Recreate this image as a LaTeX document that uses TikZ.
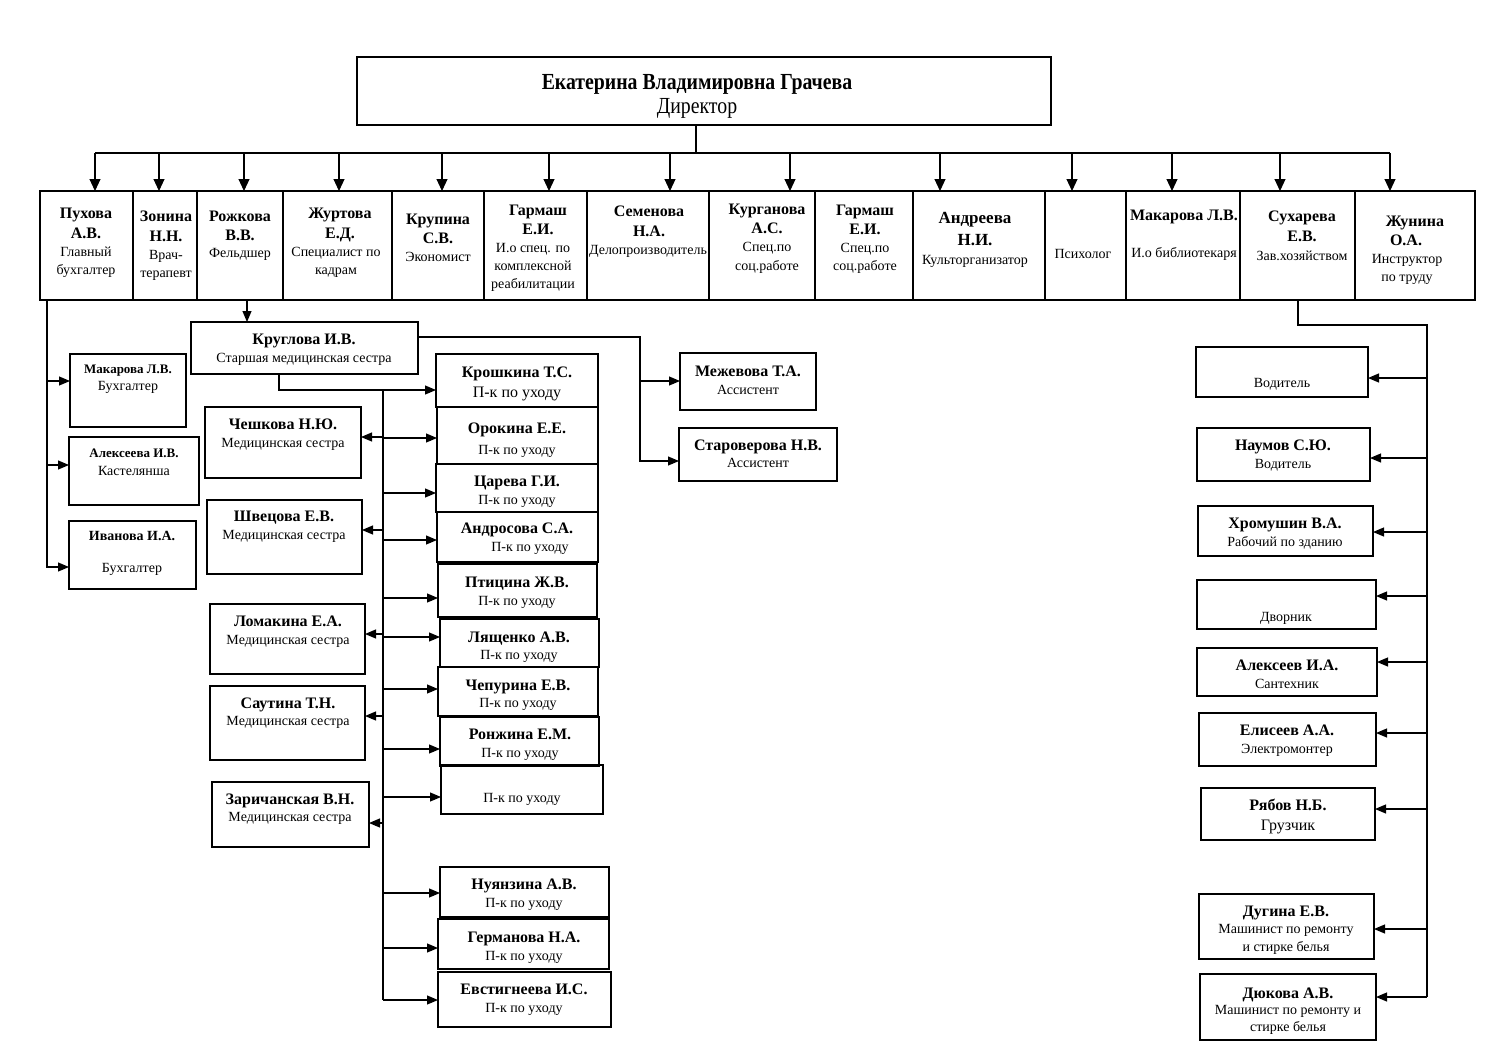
\documentclass[tikz,border=0pt]{standalone}
\usepackage{fontspec}
\setmainfont{Liberation Serif}
\usetikzlibrary{arrows.meta}
\newcount\tcn
\tikzset{
  box/.style={draw=black, line width=1.2pt, inner sep=0pt, outer sep=0pt, anchor=center},
  txt/.style={anchor=base, inner sep=0pt, outer sep=0pt},
  arr/.style={draw=black, line width=1.1pt, -{Triangle[length=11pt,width=9pt]}},
  ln/.style={draw=black, line width=1.1pt},
}
% box: [opts]{name}{x1}{y1}{x2}{y2}
\newcommand\bx[6][]{\node[box,minimum width={#5pt-#3pt},minimum height={#6pt-#4pt},#1] (#2) at ({(#3+#5)/2},{(#4+#6)/2}) {};}
% regular text: {x}{y}{size}{text}
\newcommand\txr[4]{\global\advance\tcn by 1\relax
  \node[txt,font=\fontsize{#3}{#3}\selectfont] (t\the\tcn) at ({#1},{#2+0.32*#3}) {#4};}
\newcommand\txb[4]{\global\advance\tcn by 1\relax
  \node[txt,font=\fontsize{#3}{#3}\selectfont\bfseries] (t\the\tcn) at ({#1},{#2+0.32*#3}) {#4};}
\begin{document}
\begin{tikzpicture}[x=1pt,y=-1pt]
\useasboundingbox[fill=white] (0,0) rectangle (1500,1061);

% ---------- Director ----------
\bx[line width=2.5pt]{dir}{357}{57}{1051}{125}
\node[txt,font=\fontsize{23}{23}\selectfont\bfseries,xscale=0.86] (dirname) at (697,89) {Екатерина Владимировна Грачева};
\node[txt,font=\fontsize{23}{23}\selectfont,xscale=0.86] (dirpost) at (697,113) {Директор};

% ---------- Top row cells ----------
\bx{c1}{40}{191}{133}{300}
\bx{c2}{133}{191}{197}{300}
\bx{c3}{197}{191}{283}{300}
\bx{c4}{283}{191}{392}{300}
\bx{c5}{392}{191}{484}{300}
\bx{c6}{484}{191}{587}{300}
\bx{c7}{587}{191}{709}{300}
\bx{c8}{709}{191}{815}{300}
\bx{c9}{815}{191}{913}{300}
\bx{c10}{913}{191}{1045}{300}
\bx{c11}{1045}{191}{1126}{300}
\bx{c12}{1126}{191}{1240}{300}
\bx{c13}{1240}{191}{1355}{300}
\bx{c14}{1355}{191}{1475}{300}
\bx[line width=2.5pt]{row}{40}{191}{1475}{300}

\txb{86}{213}{16}{Пухова}\txb{86}{233}{16}{А.В.}
\txr{86}{252}{14}{Главный}\txr{86}{270}{14}{бухгалтер}
\txb{166}{216}{16}{Зонина}\txb{166}{236}{16}{Н.Н.}
\txr{166}{255}{14}{Врач-}\txr{166}{273}{14}{терапевт}
\txb{240}{216}{16}{Рожкова}\txb{240}{235}{16}{В.В.}
\txr{240}{253}{14}{Фельдшер}
\txb{340}{213}{16}{Журтова}\txb{340}{233}{16}{Е.Д.}
\txr{336}{252}{14}{Специалист по}\txr{336}{270}{14}{кадрам}
\txb{438}{219}{16}{Крупина}\txb{438}{238}{16}{С.В.}
\txr{438}{257}{14}{Экономист}
\txb{538}{210}{16}{Гармаш}\txb{538}{229}{16}{Е.И.}
\txr{533}{248}{14}{И.о спец. по}\txr{533}{266}{14}{комплексной}\txr{533}{284}{14}{реабилитации}
\txb{649}{211}{16}{Семенова}\txb{649}{231}{16}{Н.А.}
\txr{648}{250}{14}{Делопроизводитель}
\txb{767}{209}{16}{Курганова}\txb{767}{228}{16}{А.С.}
\txr{767}{247}{14}{Спец.по}\txr{767}{266}{14}{соц.работе}
\txb{865}{210}{16}{Гармаш}\txb{865}{229}{16}{Е.И.}
\txr{865}{248}{14}{Спец.по}\txr{865}{266}{14}{соц.работе}
\txb{975}{218}{17}{Андреева}\txb{975}{240}{17}{Н.И.}
\txr{975}{260}{14}{Культорганизатор}
\txr{1083}{254}{14}{Психолог}
\txb{1184}{215}{16}{Макарова Л.В.}
\txr{1184}{253}{14}{И.о библиотекаря}
\txb{1302}{216}{16}{Сухарева}\txb{1302}{236}{16}{Е.В.}
\txr{1302}{256}{14}{Зав.хозяйством}
\txb{1415}{221}{16}{Жунина}\txb{1406}{240}{16}{О.А.}
\txr{1407}{259}{14}{Инструктор}\txr{1407}{277}{14}{по труду}

% ---------- Director bus ----------
\coordinate (bus) at (696,153);
\draw[ln] (dir.south -| bus) -- (bus);
\draw[ln] (95,153) -- (1390,153);
\foreach \xx/\cc in {95/c1,159/c2,244/c3,339/c4,442/c5,549/c6,670/c7,790/c8,940/c10,1072/c11,1172/c12,1280/c13,1390/c14}{
  \draw[arr,-{Triangle[length=12pt,width=11pt]}] (\xx,153) -- (\cc.north -| \xx,0);
}

% ---------- Left column (Pukhova) ----------
\bx{makL}{70}{354}{186}{427}
\bx{alek}{69}{437}{199}{505}
\bx{ivan}{69}{521}{196}{589}
\txb{128}{369}{13}{Макарова Л.В.}\txr{128}{386}{14}{Бухгалтер}
\txb{134}{453}{13}{Алексеева И.В.}\txr{134}{471}{14}{Кастелянша}
\txb{132}{536}{14}{Иванова И.А.}\txr{132}{568}{14}{Бухгалтер}
\coordinate (pk) at (47,300);
\draw[arr] (pk) |- (ivan.west |- 0,567);
\draw[arr] (47,381) -- (makL.west |- 0,381);
\draw[arr] (47,465) -- (alek.west |- 0,465);

% ---------- Kruglova ----------
\bx{krug}{191}{322}{418}{374}
\txb{304}{339}{16}{Круглова И.В.}\txr{304}{358}{14}{Старшая медицинская сестра}
\draw[arr] (c3.south -| 247,0) -- (krug.north -| 247,0);

% assistants
\bx{mezh}{680}{353}{816}{410}
\bx{star}{679}{428}{837}{481}
\txb{748}{371}{16}{Межевова Т.А.}\txr{748}{390}{14}{Ассистент}
\txb{758}{445}{16}{Староверова Н.В.}\txr{758}{463}{14}{Ассистент}
\coordinate (asb) at (640,337);
\draw[arr] (krug.east |- asb) -- (asb) |- (star.west |- 0,461);
\draw[arr] (640,381) -- (mezh.west |- 0,381);

% nurses
\bx{chesh}{205}{407}{361}{478}
\bx{shve}{207}{500}{362}{574}
\bx{loma}{210}{604}{365}{674}
\bx{saut}{210}{686}{365}{760}
\bx{zari}{212}{782}{369}{847}
\txb{283}{424}{16}{Чешкова Н.Ю.}\txr{283}{443}{14}{Медицинская сестра}
\txb{284}{516}{16}{Швецова Е.В.}\txr{284}{535}{14}{Медицинская сестра}
\txb{288}{621}{16}{Ломакина Е.А.}\txr{288}{640}{14}{Медицинская сестра}
\txb{288}{703}{16}{Саутина Т.Н.}\txr{288}{721}{14}{Медицинская сестра}
\txb{290}{799}{16}{Заричанская В.Н.}\txr{290}{817}{14}{Медицинская сестра}

% carers
\bx{kro}{436}{354}{598}{407}
\bx{oro}{437}{407}{598}{464}
\bx{tsa}{436}{464}{598}{512}
\bx{andr}{437}{512}{598}{562}
\bx{pti}{438}{564}{597}{617}
\bx{lya}{440}{619}{599}{667}
\bx{chep}{438}{667}{598}{716}
\bx{ron}{440}{717}{599}{766}
\bx{blank}{441}{765}{603}{814}
\bx{nuy}{440}{867}{609}{917}
\bx{ger}{438}{919}{609}{969}
\bx{evs}{438}{972}{611}{1027}
\txb{517}{372}{16}{Крошкина Т.С.}\txr{517}{392}{16}{П-к по уходу}
\txb{517}{428}{16}{Орокина Е.Е.}\txr{517}{450}{14}{П-к по уходу}
\txb{517}{481}{16}{Царева Г.И.}\txr{517}{500}{14}{П-к по уходу}
\txb{517}{528}{16}{Андросова С.А.}\txr{530}{547}{14}{П-к по уходу}
\txb{517}{582}{16}{Птицина Ж.В.}\txr{517}{601}{14}{П-к по уходу}
\txb{519}{637}{16}{Лященко А.В.}\txr{519}{655}{14}{П-к по уходу}
\txb{518}{685}{16}{Чепурина Е.В.}\txr{518}{703}{14}{П-к по уходу}
\txb{520}{734}{16}{Ронжина Е.М.}\txr{520}{753}{14}{П-к по уходу}
\txr{522}{798}{14}{П-к по уходу}
\txb{524}{884}{16}{Нуянзина А.В.}\txr{524}{903}{14}{П-к по уходу}
\txb{524}{937}{16}{Германова Н.А.}\txr{524}{956}{14}{П-к по уходу}
\txb{524}{989}{16}{Евстигнеева И.С.}\txr{524}{1008}{14}{П-к по уходу}

% Kruglova -> vertical bus
\coordinate (mb) at (383,390);
\draw[ln] (krug.south -| 279,0) |- (mb);
\draw[ln] (mb) -- (383,1000);
\foreach \yy/\bb in {390/kro,438/oro,493/tsa,540/andr,598/pti,637/lya,689/chep,749/ron,797/blank,893/nuy,948/ger,1000/evs}{
  \draw[arr] (383,\yy) -- (\bb.west |- 0,\yy);
}
\foreach \yy/\bb in {437/chesh,530/shve,634/loma,716/saut,823/zari}{
  \draw[arr] (383,\yy) -- (\bb.east |- 0,\yy);
}

% ---------- Right column (Sukhareva) ----------
\bx{vod}{1196}{347}{1368}{397}
\bx{nau}{1197}{428}{1370}{481}
\bx{khr}{1198}{506}{1373}{556}
\bx{dvo}{1197}{580}{1376}{629}
\bx{alx}{1197}{648}{1377}{696}
\bx{eli}{1199}{713}{1376}{766}
\bx{rya}{1201}{788}{1375}{840}
\bx{dug}{1199}{894}{1374}{959}
\bx{dyu}{1200}{974}{1376}{1040}
\txr{1282}{383}{14}{Водитель}
\txb{1283}{445}{16}{Наумов С.Ю.}\txr{1283}{464}{14}{Водитель}
\txb{1285}{523}{16}{Хромушин В.А.}\txr{1285}{542}{14}{Рабочий по зданию}
\txr{1286}{617}{14}{Дворник}
\txb{1287}{665}{16}{Алексеев И.А.}\txr{1287}{684}{14}{Сантехник}
\txb{1287}{730}{16}{Елисеев А.А.}\txr{1287}{749}{14}{Электромонтер}
\txb{1288}{805}{16}{Рябов Н.Б.}\txr{1288}{825}{16}{Грузчик}
\txb{1286}{911}{16}{Дугина Е.В.}\txr{1286}{929}{14}{Машинист по ремонту}\txr{1286}{947}{14}{и стирке белья}
\txb{1288}{993}{16}{Дюкова А.В.}\txr{1288}{1010}{14}{Машинист по ремонту и}\txr{1288}{1027}{14}{стирке белья}
\coordinate (rb) at (1427,325);
\draw[ln] (c13.south -| 1298,0) |- (rb) -- (1427,997);
\foreach \yy/\bb in {378/vod,458/nau,532/khr,596/dvo,662/alx,733/eli,809/rya,929/dug,997/dyu}{
  \draw[arr] (1427,\yy) -- (\bb.east |- 0,\yy);
}
\end{tikzpicture}
\end{document}
